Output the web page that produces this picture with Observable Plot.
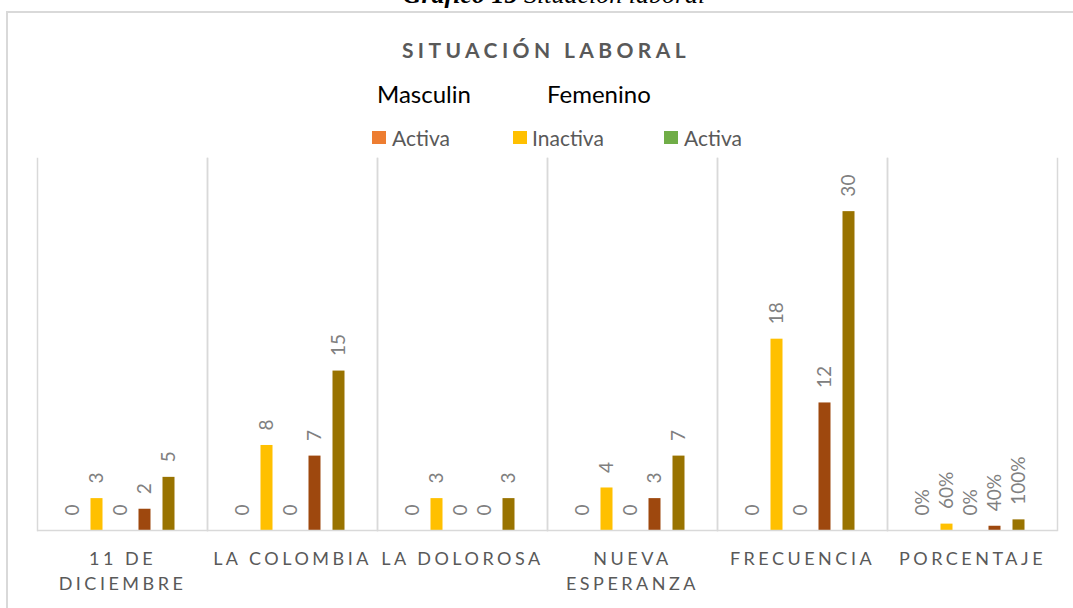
<!DOCTYPE html>
<html>
<head>
<meta charset="utf-8">
<script src="https://cdn.jsdelivr.net/npm/d3@7"></script>
<script src="https://cdn.jsdelivr.net/npm/@observablehq/plot@0.6"></script>
<style>
  html, body { margin: 0; padding: 0; background: #fff; }
  #wrap { position: relative; width: 1073px; height: 608px; overflow: hidden; font-family: Lato, "Open Sans", sans-serif; }
  #border { position: absolute; left: 6px; top: 11px; width: 1100px; height: 700px; border: 2px solid #d9d9d9; box-sizing: border-box; }
  .abs { position: absolute; white-space: nowrap; line-height: 1; }
  #caption { font-family: "Liberation Serif", serif; font-style: italic; font-size: 26px; color: #000; left: 0; width: 1108px; text-align: center; top: -18px; }
  #title { font-weight: bold; font-size: 21px; color: #595959; letter-spacing: 4.4px; left: 0; width: 1092px; text-align: center; top: 39px; }
  .sex { font-size: 24px; color: #000; top: 82px; }
  .leg { font-size: 21px; color: #595959; top: 127px; }
  .sw { position: absolute; width: 14px; height: 13px; top: 131px; }
  #chart { position: absolute; left: 0; top: 150px; }
  #chart g[aria-label="fx-axis tick label"] text { letter-spacing: 3.5px; }
</style>
</head>
<body>
<div id="wrap">
  <div id="border"></div>
  <div id="caption" class="abs"><b>Gráfico 15</b> Situación laboral</div>
  <div id="title" class="abs">SITUACIÓN LABORAL</div>
  <div class="abs sex" style="left:377px">Masculin</div>
  <div class="abs sex" style="left:547px">Femenino</div>
  <div id="legend"></div>
  <div id="chart"></div>
</div>
<script>
// ---- data ----
const groups = ["11 de Diciembre", "La Colombia", "La Dolorosa", "Nueva Esperanza", "Frecuencia", "Porcentaje"];
const groupLabels = ["11 DE\nDICIEMBRE", "LA COLOMBIA", "LA DOLOROSA", "NUEVA\nESPERANZA", "FRECUENCIA", "PORCENTAJE"];
const seriesNames = ["Masculino Activa", "Masculino Inactiva", "Femenino Activa", "Femenino Inactiva", "Total"];
const seriesColors = ["#ED7D31", "#FFC000", "#70AD47", "#9E480E", "#997300"];
const masculinoActiva   = [0, 0, 0, 0, 0, 0];
const masculinoInactiva = [3, 8, 3, 4, 18, 0.6];
const femeninoActiva    = [0, 0, 0, 0, 0, 0];
const femeninoInactiva  = [2, 7, 0, 3, 12, 0.4];
const total             = [5, 15, 3, 7, 30, 1];
const legendNames = ["Activa", "Inactiva", "Activa"];
const legendColors = ["#ED7D31", "#FFC000", "#70AD47"];

// ---- table ----
const seriesValues = [masculinoActiva, masculinoInactiva, femeninoActiva, femeninoInactiva, total];
const rows = [];
groups.forEach((g, i) => {
  seriesNames.forEach((s, j) => {
    rows.push({group: g, series: s, value: seriesValues[j][i]});
  });
});
const fmt = d => d.group === "Porcentaje" ? Math.round(d.value * 100) + "%" : String(d.value);

// ---- legend (HTML) ----
const legendPos = [[372, 392], [513, 532], [664, 684]];
const legend = document.getElementById("legend");
legendNames.forEach((name, i) => {
  const sw = document.createElement("div");
  sw.className = "sw";
  sw.style.left = legendPos[i][0] + "px";
  sw.style.background = legendColors[i];
  legend.appendChild(sw);
  const t = document.createElement("div");
  t.className = "abs leg";
  t.style.left = legendPos[i][1] + "px";
  t.textContent = name;
  legend.appendChild(t);
});

// ---- chart ----
const chart = Plot.plot({
  width: 1073,
  height: 458,
  marginLeft: 37,
  marginRight: 16,
  marginTop: 8,
  marginBottom: 78,
  style: {fontFamily: "Lato, 'Open Sans', sans-serif", background: "transparent"},
  fx: {domain: groups, padding: 0, label: null},
  x: {domain: seriesNames, paddingInner: 0.49, paddingOuter: 1.22, axis: null},
  y: {domain: [0, 35], axis: null},
  color: {domain: seriesNames, range: seriesColors},
  marks: [
    Plot.frame({anchor: "left", stroke: "#d9d9d9", strokeWidth: 1.5}),
    Plot.frame({anchor: "right", stroke: "#d9d9d9", strokeWidth: 1.5}),
    Plot.barY(rows, {fx: "group", x: "series", y: "value", fill: "series", dx: -1.5}),
    Plot.ruleY([0], {stroke: "#d9d9d9", strokeWidth: 1.5}),
    Plot.text(rows, {fx: "group", x: "series", y: "value", text: fmt, rotate: -90, textAnchor: "start", dx: -1.5, dy: -15, fill: "#808080", fontSize: 19}),
    Plot.axisFx({anchor: "bottom", tickSize: 0, tickPadding: 17, fontSize: 18, fill: "#595959", lineHeight: 1.39, label: null,
      tickFormat: g => groupLabels[groups.indexOf(g)]})
  ]
});
document.getElementById("chart").appendChild(chart);
</script>
</body>
</html>
